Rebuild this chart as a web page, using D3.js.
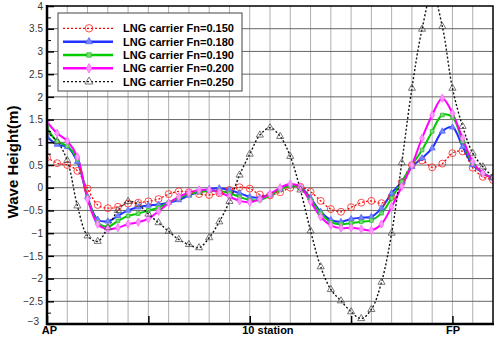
<!DOCTYPE html>
<html>
<head>
<meta charset="utf-8">
<script src="https://cdn.jsdelivr.net/npm/d3@7"></script>
<style>
  body { margin: 0; background: #fff; }
  svg { display: block; font-family: Arial, "Liberation Sans", sans-serif; }
</style>
</head>
<body>
<svg id="chart" width="501" height="338"></svg>
<script>
// stations along the hull, AP = 0, FP = 20
const stations = [0,0.5,1,1.5,2,2.5,3,3.5,4,4.5,5,5.5,6,6.5,7,7.5,8,8.5,9,9.5,10,10.5,
  11,11.5,12,12.5,13,13.5,14,14.5,15,15.5,16,16.5,17,17.5,18,18.5,19,19.5,20,20.5,21,21.5,22];

const fn150 = [0.67,0.54,0.50,0.37,-0.02,-0.38,-0.45,-0.42,-0.35,-0.33,-0.30,-0.25,-0.14,-0.08,-0.10,-0.14,
  -0.16,-0.12,-0.05,0.01,-0.02,-0.15,-0.17,-0.10,0.00,0.02,-0.09,-0.29,-0.47,-0.53,-0.43,-0.33,
  -0.29,-0.34,-0.20,0.12,0.50,0.60,0.45,0.53,0.76,0.80,0.44,0.24,0.17];
const fn180 = [1.12,0.95,0.90,0.57,-0.20,-0.70,-0.74,-0.62,-0.50,-0.43,-0.39,-0.37,-0.33,-0.27,-0.17,-0.09,
  -0.03,-0.01,-0.05,-0.12,-0.20,-0.22,-0.14,-0.03,0.06,0.02,-0.23,-0.53,-0.71,-0.75,-0.69,-0.66,
  -0.64,-0.45,-0.12,0.13,0.46,0.65,0.87,1.24,1.33,0.90,0.50,0.33,0.21];
const fn190 = [1.32,1.02,0.92,0.63,-0.22,-0.76,-0.86,-0.73,-0.62,-0.57,-0.50,-0.44,-0.33,-0.23,-0.14,-0.10,
  -0.07,-0.07,-0.12,-0.20,-0.27,-0.27,-0.17,-0.05,0.04,-0.01,-0.27,-0.56,-0.76,-0.80,-0.78,-0.75,
  -0.72,-0.56,-0.23,0.13,0.50,0.83,1.24,1.60,1.55,1.02,0.54,0.32,0.21];
const fn200 = [1.45,1.20,1.03,0.68,-0.25,-0.80,-0.91,-0.88,-0.80,-0.76,-0.68,-0.52,-0.34,-0.20,-0.11,-0.05,
  -0.05,-0.10,-0.20,-0.29,-0.32,-0.25,-0.14,0.00,0.08,0.01,-0.31,-0.64,-0.83,-0.89,-0.88,-0.91,
  -0.94,-0.80,-0.42,0.03,0.50,1.09,1.60,1.97,1.64,1.09,0.57,0.32,0.21];
const fn250 = [1.22,1.02,0.60,-0.40,-1.06,-1.18,-0.88,-0.50,-0.30,-0.37,-0.58,-0.77,-0.96,-1.14,-1.25,-1.32,
  -1.10,-0.75,-0.30,0.28,0.74,1.16,1.32,1.13,0.69,-0.05,-0.95,-1.74,-2.24,-2.49,-2.73,-2.88,
  -2.68,-2.08,-1.00,0.55,2.19,3.49,4.30,3.55,2.19,1.35,0.76,0.46,0.24];

const seriesNames = ["LNG carrier Fn=0.150","LNG carrier Fn=0.180","LNG carrier Fn=0.190","LNG carrier Fn=0.200","LNG carrier Fn=0.250"];

const yTicks = [-3,-2.5,-2,-1.5,-1,-0.5,0,0.5,1,1.5,2,2.5,3,3.5,4];
const yMinor = [-2.75,-2.25,-1.75,-1.25,-0.75,-0.25,0.25,0.75,1.25,1.75,2.25,2.75,3.25,3.75];
const xGrid = [1,2,3,4,5,6,7,8,9,10,11,12,13,14,15,16,17,18,19,20,21];
const xMajor = [0,5,10,15,20];
const xLabels = ["AP","","10 station","","FP"];

const styles = [
  {color:"#ff0000", width:1.3, dash:"2,2", sym:d3.symbolCircle, size:38, fill:"none", mstroke:"#ff2020"},
  {color:"#2233ff", width:2, dash:null, sym:d3.symbolTriangle, size:16, fill:"#7788ff", mstroke:"#5566ff"},
  {color:"#00cc00", width:2, dash:null, sym:d3.symbolSquare, size:14, fill:"#77dd77", mstroke:"#33bb33"},
  {color:"#ff00ff", width:2, dash:null, sym:d3.symbolDiamond, size:20, fill:"#ff99ff", mstroke:"#ff66ff"},
  {color:"#111111", width:1.4, dash:"2,2", sym:d3.symbolTriangle, size:22, fill:"none", mstroke:"#555"}
];
const allSeries = [fn150, fn180, fn190, fn200, fn250];

const svg = d3.select("#chart");
const L = 47, R = 493, T = 6, B = 324;

const x = d3.scaleLinear().domain([0,22]).range([L,R]);
const y = d3.scaleLinear().domain([-3,4]).range([B,T]);

// grid
svg.append("g").selectAll("line").data(xGrid).join("line")
  .attr("x1", d => x(d)).attr("x2", d => x(d)).attr("y1", T).attr("y2", B)
  .attr("stroke", "#b0b0b0").attr("stroke-width", 1);
svg.append("g").selectAll("line").data(yTicks.filter(d => d > -3 && d < 4)).join("line")
  .attr("x1", L).attr("x2", R).attr("y1", d => y(d)).attr("y2", d => y(d))
  .attr("stroke", "#666").attr("stroke-width", 1);

svg.append("defs").append("clipPath").attr("id","plotclip")
  .append("rect").attr("x", L).attr("y", T).attr("width", R-L).attr("height", B-T);

const line = d3.line().x((d,i) => x(stations[i])).y(d => y(d)).curve(d3.curveCatmullRom.alpha(0.5));

const plot = svg.append("g").attr("clip-path","url(#plotclip)");
allSeries.forEach((vals, si) => {
  const st = styles[si];
  plot.append("path").datum(vals)
    .attr("d", line)
    .attr("fill","none").attr("stroke", st.color).attr("stroke-width", st.width)
    .attr("stroke-dasharray", st.dash);
});
allSeries.forEach((vals, si) => {
  const st = styles[si];
  plot.append("g").selectAll("path").data(vals).join("path")
    .attr("transform", (d,i) => `translate(${x(stations[i])},${y(d)})`)
    .attr("d", d3.symbol().type(st.sym).size(st.size))
    .attr("fill", st.fill).attr("stroke", st.mstroke).attr("stroke-width", 0.8);
});

// axes
const yAxis = svg.append("g").attr("transform", `translate(${L},0)`)
  .call(d3.axisLeft(y).tickValues(yTicks).tickSizeInner(-7).tickSizeOuter(0).tickPadding(4)
    .tickFormat(d => d3.format("")(d)));
yAxis.select(".domain").remove();
yAxis.selectAll(".tick line").attr("stroke","#000").attr("stroke-width",1.5);
yAxis.selectAll(".tick text").attr("font-size", 10).attr("fill","#333").attr("font-family","Arial, Liberation Sans");
yAxis.selectAll(".tick").filter(d => d === -3).select("text").attr("dy","0.05em").attr("x",-8);

const yMinorAxis = svg.append("g").attr("transform", `translate(${L},0)`)
  .call(d3.axisLeft(y).tickValues(yMinor).tickSizeInner(-4).tickSizeOuter(0).tickFormat(""));
yMinorAxis.select(".domain").remove();
yMinorAxis.selectAll(".tick line").attr("stroke","#000").attr("stroke-width",1);

const xAxis = svg.append("g").attr("transform", `translate(0,${B})`)
  .call(d3.axisBottom(x).tickValues(xMajor).tickSizeInner(-8).tickSizeOuter(0).tickPadding(3)
    .tickFormat((d,i) => xLabels[i]));
xAxis.select(".domain").remove();
xAxis.selectAll(".tick line").attr("stroke","#000").attr("stroke-width",1.5);
xAxis.selectAll(".tick text").attr("font-size", 11).attr("font-weight","bold").attr("fill","#000")
  .attr("font-family","Arial, Liberation Sans").attr("dy","0.6em");
xAxis.selectAll(".tick").filter(d => d === 0).select("text").attr("x",2);
xAxis.selectAll(".tick").filter(d => d === 10).select("text").attr("text-anchor","start").attr("x",-8);

// frame
svg.append("rect").attr("x", L).attr("y", T).attr("width", R-L).attr("height", B-T)
  .attr("fill","none").attr("stroke","#000").attr("stroke-width",1.5);
svg.append("line").attr("x1",L).attr("x2",L).attr("y1",T-1).attr("y2",B+1).attr("stroke","#000").attr("stroke-width",2.5);
svg.append("line").attr("x1",L-1).attr("x2",R+1).attr("y1",B).attr("y2",B).attr("stroke","#000").attr("stroke-width",2.5);

// y title
svg.append("text").attr("transform","translate(18,162) rotate(-90)")
  .attr("text-anchor","middle").attr("font-size",15).attr("font-weight","bold")
  .text("Wave Height(m)");

// legend
const lg = svg.append("g");
lg.append("rect").attr("x",58).attr("y",13).attr("width",184).attr("height",78)
  .attr("fill","#fff").attr("stroke","#444").attr("stroke-width",1);
seriesNames.forEach((name, i) => {
  const st = styles[i];
  const ly = 28.3 + i*13.35;
  lg.append("line").attr("x1",63).attr("x2",113).attr("y1",ly).attr("y2",ly)
    .attr("stroke", st.color).attr("stroke-width", st.dash ? 1.3 : 2.5).attr("stroke-dasharray", st.dash);
  lg.append("path").attr("transform",`translate(89,${ly})`)
    .attr("d", d3.symbol().type(st.sym).size(st.size + 6))
    .attr("fill", st.fill).attr("stroke", st.mstroke).attr("stroke-width", 0.8);
  lg.append("text").attr("x",123).attr("y",ly+4).attr("font-size",11).attr("font-weight","bold")
    .text(name);
});
</script>
</body>
</html>
